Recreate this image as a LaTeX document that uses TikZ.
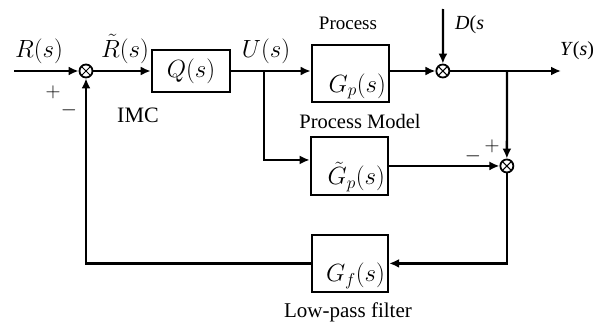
\documentclass[tikz,border=0pt]{standalone}
\usepackage{fontspec}
\setmainfont{Liberation Serif}
\usetikzlibrary{arrows.meta,positioning}
\begin{document}
\begin{tikzpicture}[
		x=1pt, y=1pt, line width=2.3pt,
		>={Latex[length=10pt,width=9pt]},
		block/.style={rectangle, draw, inner sep=0pt, line width=2.5pt},
		sumjn/.style={circle, draw, minimum size=13pt, inner sep=0pt, line width=1.8pt,
		path picture={\draw[line width=1pt] (path picture bounding box.north west) -- (path picture bounding box.south east)
		(path picture bounding box.north east) -- (path picture bounding box.south west);}},
		mathlbl/.style={font=\fontsize{24.5}{28}\selectfont, inner sep=0pt},
		textlbl/.style={font=\fontsize{#1}{24}\selectfont, inner sep=0pt},
		signlbl/.style={font=\fontsize{20}{22}\selectfont, inner sep=0pt},
		cornerlbl/.style={mathlbl, anchor=south east, inner sep=3pt}
		]
		\useasboundingbox (0,0) rectangle (603,-324);
		\node[sumjn](Sr) at (86,-71){};
		\node[block, mathlbl, right of = Sr, xshift = 76.5pt, minimum width=78pt, minimum height=42pt](Q){$Q(s)$};
		\node[block, right of = Q, xshift = 131pt, yshift = -2.5pt, minimum width=77pt, minimum height=57pt,
		label={[cornerlbl]south east:$G_p(s)$}](Gp){};
		\node[sumjn, right of = Gp, xshift = 64pt, yshift = 2.5pt](Sd){};
		\node[block, below of = Gp, yshift = -64pt, xshift = -1pt, minimum width=77pt, minimum height=58pt,
		label={[cornerlbl]south east:$\tilde{G}_p(s)$}](Gm){};
		\node[sumjn, right of = Gm, xshift = 129pt](Se){};
		\node[block, below of = Gm, yshift = -69pt, xshift = 0.5pt, minimum width=76pt, minimum height=57pt,
		label={[cornerlbl]south east:$G_f(s)$}](Gf){};
		\coordinate (In) at (14,-71);
		\coordinate (U) at (264,-71);
		\coordinate (Yb) at (507,-71);
		\coordinate (Out) at (561,-71);
		\coordinate (Dn) at (443,-9);
		\draw[->] (In) -- (Sr);
		\draw[->] (Sr) -- (Q);
		\draw (Q) -- (U);
		\draw[->] (U) -- (U -| Gp.west);
		\draw[->] (U) |- ([yshift=6pt]Gm.west);
		\draw[->] (Gp.east |- Sd) -- (Sd);
		\draw[->] (Dn) -- (Sd);
		\draw[->] (Sd) -- (Out);
		\draw[->] (Yb) -- (Se);
		\draw[->] (Gm.east |- Se) -- (Se);
		\draw[->] (Se) |- (Gf.east);
		\draw[->] (Gf.west) -| (Sr);
		\node[mathlbl, anchor=base](Rl) at (39,-57){$R(s)$};
		\node[mathlbl, anchor=base](Rtl) at (125,-57){$\tilde{R}(s)$};
		\node[mathlbl, anchor=base](Ul) at (266,-57){$U(s)$};
		\node[textlbl=20, anchor=base west](Dl) at (454,-29){\textit{D}(\textit{s}};
		\node[textlbl=20, anchor=base](Yl) at (577,-56){\textit{Y}(\textit{s})};
		\node[textlbl=19, anchor=base](Pl) at (348,-29){Process};
		\node[textlbl=20.5, anchor=base](Pml) at (360,-128){Process Model};
		\node[textlbl=22, anchor=base](Il) at (138,-122){IMC};
		\node[textlbl=21, anchor=base](Ll) at (348,-317){Low-pass filter};
		\node[signlbl](p1) at (53,-92){$+$};
		\node[signlbl](m1) at (69,-110){$-$};
		\node[signlbl](m2) at (473,-156){$-$};
		\node[signlbl](p2) at (492,-146){$+$};
\end{tikzpicture}
\end{document}
